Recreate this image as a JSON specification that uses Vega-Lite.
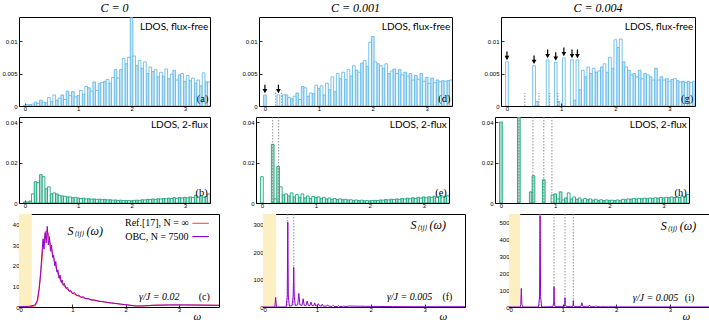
{
"$schema":"https://vega.github.io/schema/vega-lite/v6.json",
"padding":{"left":1,"top":1,"right":0,"bottom":0},
"spacing":4,
"config":{
 "view":{"stroke":"#000","strokeWidth":1},
 "axis":{"grid":false,"domain":false,"tickSize":-3,"tickColor":"#000","tickWidth":0.8,"labelFont":"Liberation Sans","labelFontSize":6,"labelColor":"#000","labelOverlap":false,"labelBound":false,"tickCount":12},
 "axisX":{"labelPadding":2},
 "axisY":{"labelPadding":5},
 "title":{"font":"Liberation Serif","fontSize":12,"fontStyle":"italic","fontWeight":"normal","offset":2}
},
"datasets":{
"a":[{"lo":-0.025,"hi":0.025,"v":0.0001,"s":"f"},{"lo":0.025,"hi":0.075,"v":0.0002,"s":"o"},{"lo":0.075,"hi":0.125,"v":0.0002,"s":"f"},{"lo":0.125,"hi":0.175,"v":0.0003,"s":"o"},{"lo":0.175,"hi":0.225,"v":0.0006,"s":"f"},{"lo":0.225,"hi":0.275,"v":0.0004,"s":"o"},{"lo":0.275,"hi":0.325,"v":0.0009,"s":"f"},{"lo":0.325,"hi":0.375,"v":0.0006,"s":"o"},{"lo":0.375,"hi":0.425,"v":0.0005,"s":"f"},{"lo":0.425,"hi":0.475,"v":0.0013,"s":"o"},
{"lo":0.475,"hi":0.525,"v":0.0007,"s":"f"},{"lo":0.525,"hi":0.575,"v":0.0017,"s":"o"},{"lo":0.575,"hi":0.625,"v":0.0009,"s":"f"},{"lo":0.625,"hi":0.675,"v":0.0012,"s":"o"},{"lo":0.675,"hi":0.725,"v":0.0017,"s":"f"},{"lo":0.725,"hi":0.775,"v":0.0010,"s":"o"},{"lo":0.775,"hi":0.825,"v":0.0023,"s":"f"},{"lo":0.825,"hi":0.875,"v":0.0016,"s":"o"},{"lo":0.875,"hi":0.925,"v":0.0022,"s":"f"},{"lo":0.925,"hi":0.975,"v":0.0014,"s":"o"},
{"lo":0.975,"hi":1.025,"v":0.0016,"s":"f"},{"lo":1.025,"hi":1.075,"v":0.0024,"s":"o"},{"lo":1.075,"hi":1.125,"v":0.0018,"s":"f"},{"lo":1.125,"hi":1.175,"v":0.0030,"s":"o"},{"lo":1.175,"hi":1.225,"v":0.0028,"s":"f"},{"lo":1.225,"hi":1.275,"v":0.0023,"s":"o"},{"lo":1.275,"hi":1.325,"v":0.0037,"s":"f"},{"lo":1.325,"hi":1.375,"v":0.0024,"s":"o"},{"lo":1.375,"hi":1.425,"v":0.0035,"s":"f"},{"lo":1.425,"hi":1.475,"v":0.0036,"s":"o"},
{"lo":1.475,"hi":1.525,"v":0.0038,"s":"f"},{"lo":1.525,"hi":1.575,"v":0.0041,"s":"o"},{"lo":1.575,"hi":1.625,"v":0.0035,"s":"f"},{"lo":1.625,"hi":1.675,"v":0.0044,"s":"o"},{"lo":1.675,"hi":1.725,"v":0.0056,"s":"f"},{"lo":1.725,"hi":1.775,"v":0.0043,"s":"o"},{"lo":1.775,"hi":1.825,"v":0.0056,"s":"f"},{"lo":1.825,"hi":1.875,"v":0.0073,"s":"o"},{"lo":1.875,"hi":1.925,"v":0.0065,"s":"f"},{"lo":1.925,"hi":1.975,"v":0.0075,"s":"o"},
{"lo":1.975,"hi":2.025,"v":0.0136,"s":"f"},{"lo":2.025,"hi":2.075,"v":0.0077,"s":"o"},{"lo":2.075,"hi":2.125,"v":0.0062,"s":"f"},{"lo":2.125,"hi":2.175,"v":0.0070,"s":"o"},{"lo":2.175,"hi":2.225,"v":0.0058,"s":"f"},{"lo":2.225,"hi":2.275,"v":0.0068,"s":"o"},{"lo":2.275,"hi":2.325,"v":0.0050,"s":"f"},{"lo":2.325,"hi":2.375,"v":0.0060,"s":"o"},{"lo":2.375,"hi":2.425,"v":0.0053,"s":"f"},{"lo":2.425,"hi":2.475,"v":0.0056,"s":"o"},
{"lo":2.475,"hi":2.525,"v":0.0045,"s":"f"},{"lo":2.525,"hi":2.575,"v":0.0052,"s":"o"},{"lo":2.575,"hi":2.625,"v":0.0046,"s":"f"},{"lo":2.625,"hi":2.675,"v":0.0057,"s":"o"},{"lo":2.675,"hi":2.725,"v":0.0042,"s":"f"},{"lo":2.725,"hi":2.775,"v":0.0049,"s":"o"},{"lo":2.775,"hi":2.825,"v":0.0055,"s":"f"},{"lo":2.825,"hi":2.875,"v":0.0040,"s":"o"},{"lo":2.875,"hi":2.925,"v":0.0048,"s":"f"},{"lo":2.925,"hi":2.975,"v":0.0050,"s":"o"},
{"lo":2.975,"hi":3.025,"v":0.0038,"s":"f"},{"lo":3.025,"hi":3.075,"v":0.0047,"s":"o"},{"lo":3.075,"hi":3.125,"v":0.0039,"s":"f"},{"lo":3.125,"hi":3.175,"v":0.0043,"s":"o"},{"lo":3.175,"hi":3.225,"v":0.0035,"s":"f"},{"lo":3.225,"hi":3.275,"v":0.0040,"s":"o"},{"lo":3.275,"hi":3.325,"v":0.0031,"s":"f"},{"lo":3.325,"hi":3.375,"v":0.0051,"s":"o"},{"lo":3.375,"hi":3.425,"v":0.0037,"s":"f"},{"lo":3.425,"hi":3.475,"v":0.0037,"s":"o"}],
"b":[{"lo":-0.025,"hi":0.025,"v":0.0005,"s":"f"},{"lo":0.025,"hi":0.075,"v":0.0005,"s":"o"},{"lo":0.075,"hi":0.125,"v":0.0010,"s":"f"},{"lo":0.125,"hi":0.175,"v":0.0045,"s":"o"},{"lo":0.175,"hi":0.225,"v":0.0105,"s":"f"},{"lo":0.225,"hi":0.275,"v":0.0100,"s":"o"},{"lo":0.275,"hi":0.325,"v":0.0140,"s":"f"},{"lo":0.325,"hi":0.375,"v":0.0130,"s":"o"},{"lo":0.375,"hi":0.425,"v":0.0070,"s":"f"},{"lo":0.425,"hi":0.475,"v":0.0080,"s":"o"},
{"lo":0.475,"hi":0.525,"v":0.0045,"s":"f"},{"lo":0.525,"hi":0.575,"v":0.0050,"s":"o"},{"lo":0.575,"hi":0.625,"v":0.0045,"s":"f"},{"lo":0.625,"hi":0.675,"v":0.0038,"s":"o"},{"lo":0.675,"hi":0.725,"v":0.0035,"s":"f"},{"lo":0.725,"hi":0.775,"v":0.0033,"s":"o"},{"lo":0.775,"hi":0.825,"v":0.0030,"s":"f"},{"lo":0.825,"hi":0.875,"v":0.0030,"s":"o"},{"lo":0.875,"hi":0.925,"v":0.0026,"s":"f"},{"lo":0.925,"hi":0.975,"v":0.0028,"s":"o"},
{"lo":0.975,"hi":1.025,"v":0.0025,"s":"f"},{"lo":1.025,"hi":1.075,"v":0.0022,"s":"o"},{"lo":1.075,"hi":1.125,"v":0.0024,"s":"f"},{"lo":1.125,"hi":1.175,"v":0.0020,"s":"o"},{"lo":1.175,"hi":1.225,"v":0.0021,"s":"f"},{"lo":1.225,"hi":1.275,"v":0.0019,"s":"o"},{"lo":1.275,"hi":1.325,"v":0.0020,"s":"f"},{"lo":1.325,"hi":1.375,"v":0.0018,"s":"o"},{"lo":1.375,"hi":1.425,"v":0.0019,"s":"f"},{"lo":1.425,"hi":1.475,"v":0.0016,"s":"o"},
{"lo":1.475,"hi":1.525,"v":0.0018,"s":"f"},{"lo":1.525,"hi":1.575,"v":0.0015,"s":"o"},{"lo":1.575,"hi":1.625,"v":0.0016,"s":"f"},{"lo":1.625,"hi":1.675,"v":0.0014,"s":"o"},{"lo":1.675,"hi":1.725,"v":0.0015,"s":"f"},{"lo":1.725,"hi":1.775,"v":0.0013,"s":"o"},{"lo":1.775,"hi":1.825,"v":0.0014,"s":"f"},{"lo":1.825,"hi":1.875,"v":0.0012,"s":"o"},{"lo":1.875,"hi":1.925,"v":0.0013,"s":"f"},{"lo":1.925,"hi":1.975,"v":0.0012,"s":"o"},
{"lo":1.975,"hi":2.025,"v":0.0011,"s":"f"},{"lo":2.025,"hi":2.075,"v":0.0013,"s":"o"},{"lo":2.075,"hi":2.125,"v":0.0014,"s":"f"},{"lo":2.125,"hi":2.175,"v":0.0013,"s":"o"},{"lo":2.175,"hi":2.225,"v":0.0016,"s":"f"},{"lo":2.225,"hi":2.275,"v":0.0015,"s":"o"},{"lo":2.275,"hi":2.325,"v":0.0018,"s":"f"},{"lo":2.325,"hi":2.375,"v":0.0017,"s":"o"},{"lo":2.375,"hi":2.425,"v":0.0020,"s":"f"},{"lo":2.425,"hi":2.475,"v":0.0018,"s":"o"},
{"lo":2.475,"hi":2.525,"v":0.0021,"s":"f"},{"lo":2.525,"hi":2.575,"v":0.0020,"s":"o"},{"lo":2.575,"hi":2.625,"v":0.0022,"s":"f"},{"lo":2.625,"hi":2.675,"v":0.0021,"s":"o"},{"lo":2.675,"hi":2.725,"v":0.0024,"s":"f"},{"lo":2.725,"hi":2.775,"v":0.0022,"s":"o"},{"lo":2.775,"hi":2.825,"v":0.0026,"s":"f"},{"lo":2.825,"hi":2.875,"v":0.0023,"s":"o"},{"lo":2.875,"hi":2.925,"v":0.0027,"s":"f"},{"lo":2.925,"hi":2.975,"v":0.0025,"s":"o"},
{"lo":2.975,"hi":3.025,"v":0.0028,"s":"f"},{"lo":3.025,"hi":3.075,"v":0.0026,"s":"o"},{"lo":3.075,"hi":3.125,"v":0.0030,"s":"f"},{"lo":3.125,"hi":3.175,"v":0.0027,"s":"o"},{"lo":3.175,"hi":3.225,"v":0.0038,"s":"f"},{"lo":3.225,"hi":3.275,"v":0.0030,"s":"o"},{"lo":3.275,"hi":3.325,"v":0.0033,"s":"f"},{"lo":3.325,"hi":3.375,"v":0.0029,"s":"o"},{"lo":3.375,"hi":3.425,"v":0.0032,"s":"f"},{"lo":3.425,"hi":3.475,"v":0.0045,"s":"o"}],
"d":[{"lo":-0.025,"hi":0.025,"v":0.0017,"s":"f"},{"lo":0.225,"hi":0.275,"v":0.0017,"s":"o"},{"lo":0.325,"hi":0.375,"v":0.0017,"s":"o"},{"lo":0.375,"hi":0.425,"v":0.0017,"s":"f"},{"lo":0.425,"hi":0.475,"v":0.0013,"s":"o"},
{"lo":0.475,"hi":0.525,"v":0.0011,"s":"f"},{"lo":0.525,"hi":0.575,"v":0.0015,"s":"o"},{"lo":0.575,"hi":0.625,"v":0.0020,"s":"f"},{"lo":0.625,"hi":0.675,"v":0.0010,"s":"o"},{"lo":0.675,"hi":0.725,"v":0.0030,"s":"f"},{"lo":0.725,"hi":0.775,"v":0.0028,"s":"o"},{"lo":0.775,"hi":0.825,"v":0.0015,"s":"f"},{"lo":0.825,"hi":0.875,"v":0.0020,"s":"o"},{"lo":0.875,"hi":0.925,"v":0.0019,"s":"f"},{"lo":0.925,"hi":0.975,"v":0.0032,"s":"o"},
{"lo":0.975,"hi":1.025,"v":0.0027,"s":"f"},{"lo":1.025,"hi":1.075,"v":0.0031,"s":"o"},{"lo":1.075,"hi":1.125,"v":0.0017,"s":"f"},{"lo":1.125,"hi":1.175,"v":0.0035,"s":"o"},{"lo":1.175,"hi":1.225,"v":0.0025,"s":"f"},{"lo":1.225,"hi":1.275,"v":0.0045,"s":"o"},{"lo":1.275,"hi":1.325,"v":0.0022,"s":"f"},{"lo":1.325,"hi":1.375,"v":0.0050,"s":"o"},{"lo":1.375,"hi":1.425,"v":0.0042,"s":"f"},{"lo":1.425,"hi":1.475,"v":0.0052,"s":"o"},
{"lo":1.475,"hi":1.525,"v":0.0041,"s":"f"},{"lo":1.525,"hi":1.575,"v":0.0056,"s":"o"},{"lo":1.575,"hi":1.625,"v":0.0046,"s":"f"},{"lo":1.625,"hi":1.675,"v":0.0062,"s":"o"},{"lo":1.675,"hi":1.725,"v":0.0055,"s":"f"},{"lo":1.725,"hi":1.775,"v":0.0052,"s":"o"},{"lo":1.775,"hi":1.825,"v":0.0066,"s":"f"},{"lo":1.825,"hi":1.875,"v":0.0070,"s":"o"},{"lo":1.875,"hi":1.925,"v":0.0061,"s":"f"},{"lo":1.925,"hi":1.975,"v":0.0098,"s":"o"},
{"lo":1.975,"hi":2.025,"v":0.0107,"s":"f"},{"lo":2.025,"hi":2.075,"v":0.0068,"s":"o"},{"lo":2.075,"hi":2.125,"v":0.0065,"s":"f"},{"lo":2.125,"hi":2.175,"v":0.0062,"s":"o"},{"lo":2.175,"hi":2.225,"v":0.0058,"s":"f"},{"lo":2.225,"hi":2.275,"v":0.0065,"s":"o"},{"lo":2.275,"hi":2.325,"v":0.0050,"s":"f"},{"lo":2.325,"hi":2.375,"v":0.0054,"s":"o"},{"lo":2.375,"hi":2.425,"v":0.0057,"s":"f"},{"lo":2.425,"hi":2.475,"v":0.0050,"s":"o"},
{"lo":2.475,"hi":2.525,"v":0.0056,"s":"f"},{"lo":2.525,"hi":2.575,"v":0.0048,"s":"o"},{"lo":2.575,"hi":2.625,"v":0.0052,"s":"f"},{"lo":2.625,"hi":2.675,"v":0.0046,"s":"o"},{"lo":2.675,"hi":2.725,"v":0.0050,"s":"f"},{"lo":2.725,"hi":2.775,"v":0.0040,"s":"o"},{"lo":2.775,"hi":2.825,"v":0.0047,"s":"f"},{"lo":2.825,"hi":2.875,"v":0.0041,"s":"o"},{"lo":2.875,"hi":2.925,"v":0.0050,"s":"f"},{"lo":2.925,"hi":2.975,"v":0.0038,"s":"o"},
{"lo":2.975,"hi":3.025,"v":0.0044,"s":"f"},{"lo":3.025,"hi":3.075,"v":0.0035,"s":"o"},{"lo":3.075,"hi":3.125,"v":0.0043,"s":"f"},{"lo":3.125,"hi":3.175,"v":0.0036,"s":"o"},{"lo":3.175,"hi":3.225,"v":0.0040,"s":"f"},{"lo":3.225,"hi":3.275,"v":0.0037,"s":"o"},{"lo":3.275,"hi":3.325,"v":0.0039,"s":"f"},{"lo":3.325,"hi":3.375,"v":0.0038,"s":"o"},{"lo":3.375,"hi":3.425,"v":0.0039,"s":"f"},{"lo":3.425,"hi":3.475,"v":0.0040,"s":"o"}],
"e":[{"lo":-0.025,"hi":0.025,"v":0.013,"s":"o"},{"lo":0.175,"hi":0.225,"v":0.029,"s":"f"},{"lo":0.225,"hi":0.275,"v":0.002,"s":"o"},{"lo":0.275,"hi":0.325,"v":0.018,"s":"f"},{"lo":0.325,"hi":0.375,"v":0.008,"s":"o"},{"lo":0.375,"hi":0.425,"v":0.0040,"s":"f"},{"lo":0.425,"hi":0.475,"v":0.0045,"s":"o"},
{"lo":0.475,"hi":0.525,"v":0.0035,"s":"f"},{"lo":0.525,"hi":0.575,"v":0.0050,"s":"o"},{"lo":0.575,"hi":0.625,"v":0.0030,"s":"f"},{"lo":0.625,"hi":0.675,"v":0.0042,"s":"o"},{"lo":0.675,"hi":0.725,"v":0.0028,"s":"f"},{"lo":0.725,"hi":0.775,"v":0.0045,"s":"o"},{"lo":0.775,"hi":0.825,"v":0.0025,"s":"f"},{"lo":0.825,"hi":0.875,"v":0.0035,"s":"o"},{"lo":0.875,"hi":0.925,"v":0.0022,"s":"f"},{"lo":0.925,"hi":0.975,"v":0.0032,"s":"o"},
{"lo":0.975,"hi":1.025,"v":0.0028,"s":"f"},{"lo":1.025,"hi":1.075,"v":0.0030,"s":"o"},{"lo":1.075,"hi":1.125,"v":0.0022,"s":"f"},{"lo":1.125,"hi":1.175,"v":0.0028,"s":"o"},{"lo":1.175,"hi":1.225,"v":0.0020,"s":"f"},{"lo":1.225,"hi":1.275,"v":0.0025,"s":"o"},{"lo":1.275,"hi":1.325,"v":0.0018,"s":"f"},{"lo":1.325,"hi":1.375,"v":0.0022,"s":"o"},{"lo":1.375,"hi":1.425,"v":0.0017,"s":"f"},{"lo":1.425,"hi":1.475,"v":0.0020,"s":"o"},
{"lo":1.475,"hi":1.525,"v":0.0016,"s":"f"},{"lo":1.525,"hi":1.575,"v":0.0018,"s":"o"},{"lo":1.575,"hi":1.625,"v":0.0015,"s":"f"},{"lo":1.625,"hi":1.675,"v":0.0016,"s":"o"},{"lo":1.675,"hi":1.725,"v":0.0013,"s":"f"},{"lo":1.725,"hi":1.775,"v":0.0015,"s":"o"},{"lo":1.775,"hi":1.825,"v":0.0012,"s":"f"},{"lo":1.825,"hi":1.875,"v":0.0014,"s":"o"},{"lo":1.875,"hi":1.925,"v":0.0011,"s":"f"},{"lo":1.925,"hi":1.975,"v":0.0012,"s":"o"},
{"lo":1.975,"hi":2.025,"v":0.0010,"s":"f"},{"lo":2.025,"hi":2.075,"v":0.0012,"s":"o"},{"lo":2.075,"hi":2.125,"v":0.0013,"s":"f"},{"lo":2.125,"hi":2.175,"v":0.0012,"s":"o"},{"lo":2.175,"hi":2.225,"v":0.0015,"s":"f"},{"lo":2.225,"hi":2.275,"v":0.0014,"s":"o"},{"lo":2.275,"hi":2.325,"v":0.0017,"s":"f"},{"lo":2.325,"hi":2.375,"v":0.0015,"s":"o"},{"lo":2.375,"hi":2.425,"v":0.0019,"s":"f"},{"lo":2.425,"hi":2.475,"v":0.0017,"s":"o"},
{"lo":2.475,"hi":2.525,"v":0.0020,"s":"f"},{"lo":2.525,"hi":2.575,"v":0.0018,"s":"o"},{"lo":2.575,"hi":2.625,"v":0.0022,"s":"f"},{"lo":2.625,"hi":2.675,"v":0.0020,"s":"o"},{"lo":2.675,"hi":2.725,"v":0.0024,"s":"f"},{"lo":2.725,"hi":2.775,"v":0.0021,"s":"o"},{"lo":2.775,"hi":2.825,"v":0.0026,"s":"f"},{"lo":2.825,"hi":2.875,"v":0.0022,"s":"o"},{"lo":2.875,"hi":2.925,"v":0.0028,"s":"f"},{"lo":2.925,"hi":2.975,"v":0.0024,"s":"o"},
{"lo":2.975,"hi":3.025,"v":0.0030,"s":"f"},{"lo":3.025,"hi":3.075,"v":0.0026,"s":"o"},{"lo":3.075,"hi":3.125,"v":0.0031,"s":"f"},{"lo":3.125,"hi":3.175,"v":0.0028,"s":"o"},{"lo":3.175,"hi":3.225,"v":0.0033,"s":"f"},{"lo":3.225,"hi":3.275,"v":0.0029,"s":"o"},{"lo":3.275,"hi":3.325,"v":0.0032,"s":"f"},{"lo":3.325,"hi":3.375,"v":0.0030,"s":"o"},{"lo":3.375,"hi":3.425,"v":0.0034,"s":"f"},{"lo":3.425,"hi":3.475,"v":0.0036,"s":"o"}],
"g":[{"lo":-0.025,"hi":0.025,"v":0.0068,"s":"o"},{"lo":0.475,"hi":0.525,"v":0.0062,"s":"o"},{"lo":0.525,"hi":0.575,"v":0.0007,"s":"f"},{"lo":0.725,"hi":0.775,"v":0.0071,"s":"o"},{"lo":0.875,"hi":0.925,"v":0.0067,"s":"o"},{"lo":0.925,"hi":0.975,"v":0.0007,"s":"f"},{"lo":1.025,"hi":1.075,"v":0.0074,"s":"o"},{"lo":1.175,"hi":1.225,"v":0.0071,"s":"o"},{"lo":1.225,"hi":1.275,"v":0.0009,"s":"f"},{"lo":1.275,"hi":1.325,"v":0.0071,"s":"o"},
{"lo":1.325,"hi":1.375,"v":0.0025,"s":"f"},{"lo":1.375,"hi":1.425,"v":0.0055,"s":"o"},{"lo":1.425,"hi":1.475,"v":0.0045,"s":"f"},{"lo":1.475,"hi":1.525,"v":0.0060,"s":"o"},{"lo":1.525,"hi":1.575,"v":0.0050,"s":"f"},{"lo":1.575,"hi":1.625,"v":0.0058,"s":"o"},{"lo":1.625,"hi":1.675,"v":0.0052,"s":"f"},{"lo":1.675,"hi":1.725,"v":0.0054,"s":"o"},{"lo":1.725,"hi":1.775,"v":0.0060,"s":"f"},{"lo":1.775,"hi":1.825,"v":0.0065,"s":"o"},
{"lo":1.825,"hi":1.875,"v":0.0052,"s":"f"},{"lo":1.875,"hi":1.925,"v":0.0075,"s":"o"},{"lo":1.925,"hi":1.975,"v":0.0058,"s":"f"},{"lo":1.975,"hi":2.025,"v":0.0102,"s":"o"},{"lo":2.025,"hi":2.075,"v":0.0090,"s":"f"},{"lo":2.075,"hi":2.125,"v":0.0103,"s":"o"},{"lo":2.125,"hi":2.175,"v":0.0068,"s":"f"},{"lo":2.175,"hi":2.225,"v":0.0060,"s":"o"},{"lo":2.225,"hi":2.275,"v":0.0055,"s":"f"},{"lo":2.275,"hi":2.325,"v":0.0048,"s":"o"},
{"lo":2.325,"hi":2.375,"v":0.0050,"s":"f"},{"lo":2.375,"hi":2.425,"v":0.0045,"s":"o"},{"lo":2.425,"hi":2.475,"v":0.0055,"s":"f"},{"lo":2.475,"hi":2.525,"v":0.0042,"s":"o"},{"lo":2.525,"hi":2.575,"v":0.0050,"s":"f"},{"lo":2.575,"hi":2.625,"v":0.0048,"s":"o"},{"lo":2.625,"hi":2.675,"v":0.0045,"s":"f"},{"lo":2.675,"hi":2.725,"v":0.0040,"s":"o"},{"lo":2.725,"hi":2.775,"v":0.0058,"s":"f"},{"lo":2.775,"hi":2.825,"v":0.0040,"s":"o"},
{"lo":2.825,"hi":2.875,"v":0.0045,"s":"f"},{"lo":2.875,"hi":2.925,"v":0.0040,"s":"o"},{"lo":2.925,"hi":2.975,"v":0.0042,"s":"f"},{"lo":2.975,"hi":3.025,"v":0.0038,"s":"o"},{"lo":3.025,"hi":3.075,"v":0.0041,"s":"f"},{"lo":3.075,"hi":3.125,"v":0.0042,"s":"o"},{"lo":3.125,"hi":3.175,"v":0.0039,"s":"f"},{"lo":3.175,"hi":3.225,"v":0.0037,"s":"o"},{"lo":3.225,"hi":3.275,"v":0.0038,"s":"f"},{"lo":3.275,"hi":3.325,"v":0.0036,"s":"o"},
{"lo":3.325,"hi":3.375,"v":0.0038,"s":"f"},{"lo":3.375,"hi":3.425,"v":0.0036,"s":"o"},{"lo":3.425,"hi":3.475,"v":0.0038,"s":"f"}],
"h":[{"lo":-0.025,"hi":0.025,"v":0.040,"s":"f"},{"lo":0.305,"hi":0.355,"v":0.0425,"s":"f"},{"lo":0.525,"hi":0.575,"v":0.0055,"s":"f"},{"lo":0.575,"hi":0.625,"v":0.0135,"s":"f"},{"lo":0.765,"hi":0.815,"v":0.0115,"s":"f"},{"lo":0.925,"hi":0.975,"v":0.0040,"s":"o"},{"lo":0.975,"hi":1.025,"v":0.0045,"s":"f"},{"lo":1.025,"hi":1.075,"v":0.0020,"s":"o"},{"lo":1.075,"hi":1.125,"v":0.0055,"s":"f"},{"lo":1.125,"hi":1.175,"v":0.0015,"s":"o"},
{"lo":1.175,"hi":1.225,"v":0.0025,"s":"f"},{"lo":1.225,"hi":1.275,"v":0.0050,"s":"o"},{"lo":1.275,"hi":1.325,"v":0.0020,"s":"f"},{"lo":1.325,"hi":1.375,"v":0.0030,"s":"o"},{"lo":1.375,"hi":1.425,"v":0.0018,"s":"f"},{"lo":1.425,"hi":1.475,"v":0.0025,"s":"o"},{"lo":1.475,"hi":1.525,"v":0.0015,"s":"f"},{"lo":1.525,"hi":1.575,"v":0.0022,"s":"o"},{"lo":1.575,"hi":1.625,"v":0.0016,"s":"f"},{"lo":1.625,"hi":1.675,"v":0.0020,"s":"o"},
{"lo":1.675,"hi":1.725,"v":0.0014,"s":"f"},{"lo":1.725,"hi":1.775,"v":0.0018,"s":"o"},{"lo":1.775,"hi":1.825,"v":0.0013,"s":"f"},{"lo":1.825,"hi":1.875,"v":0.0016,"s":"o"},{"lo":1.875,"hi":1.925,"v":0.0012,"s":"f"},{"lo":1.925,"hi":1.975,"v":0.0015,"s":"o"},{"lo":1.975,"hi":2.025,"v":0.0013,"s":"f"},{"lo":2.025,"hi":2.075,"v":0.0014,"s":"o"},{"lo":2.075,"hi":2.125,"v":0.0012,"s":"f"},{"lo":2.125,"hi":2.175,"v":0.0015,"s":"o"},
{"lo":2.175,"hi":2.225,"v":0.0013,"s":"f"},{"lo":2.225,"hi":2.275,"v":0.0018,"s":"o"},{"lo":2.275,"hi":2.325,"v":0.0016,"s":"f"},{"lo":2.325,"hi":2.375,"v":0.0020,"s":"o"},{"lo":2.375,"hi":2.425,"v":0.0019,"s":"f"},{"lo":2.425,"hi":2.475,"v":0.0022,"s":"o"},{"lo":2.475,"hi":2.525,"v":0.0020,"s":"f"},{"lo":2.525,"hi":2.575,"v":0.0023,"s":"o"},{"lo":2.575,"hi":2.625,"v":0.0021,"s":"f"},{"lo":2.625,"hi":2.675,"v":0.0024,"s":"o"},
{"lo":2.675,"hi":2.725,"v":0.0022,"s":"f"},{"lo":2.725,"hi":2.775,"v":0.0025,"s":"o"},{"lo":2.775,"hi":2.825,"v":0.0023,"s":"f"},{"lo":2.825,"hi":2.875,"v":0.0026,"s":"o"},{"lo":2.875,"hi":2.925,"v":0.0024,"s":"f"},{"lo":2.925,"hi":2.975,"v":0.0027,"s":"o"},{"lo":2.975,"hi":3.025,"v":0.0025,"s":"f"},{"lo":3.025,"hi":3.075,"v":0.0028,"s":"o"},{"lo":3.075,"hi":3.125,"v":0.0026,"s":"f"},{"lo":3.125,"hi":3.175,"v":0.0030,"s":"o"},
{"lo":3.175,"hi":3.225,"v":0.0027,"s":"f"},{"lo":3.225,"hi":3.275,"v":0.0031,"s":"o"},{"lo":3.275,"hi":3.325,"v":0.0028,"s":"f"},{"lo":3.325,"hi":3.375,"v":0.0033,"s":"o"},{"lo":3.375,"hi":3.425,"v":0.0030,"s":"f"},{"lo":3.425,"hi":3.475,"v":0.0042,"s":"o"}],
"cref":[{"w":0,"S":0},{"w":0.2,"S":0.1},{"w":0.3,"S":0.5},{"w":0.35,"S":3},{"w":0.4,"S":14},{"w":0.45,"S":29},{"w":0.5,"S":36.5},{"w":0.53,"S":37},{"w":0.56,"S":34},{"w":0.6,"S":29},{"w":0.65,"S":23.5},{"w":0.7,"S":18.5},{"w":0.75,"S":14.5},{"w":0.8,"S":11.8},{"w":0.9,"S":8.8},{"w":1.0,"S":6.8},{"w":1.1,"S":5.5},{"w":1.2,"S":4.5},{"w":1.4,"S":3.2},{"w":1.6,"S":2.4},{"w":1.8,"S":1.7},{"w":2.0,"S":1.1},{"w":2.2,"S":0.5},{"w":2.3,"S":0.5},{"w":2.5,"S":0.8},{"w":2.8,"S":1.0},{"w":3.1,"S":1.0},{"w":3.4,"S":0.9},{"w":3.75,"S":0.8}],
"cobc":[{"w":0,"S":0.1},{"w":0.1,"S":0.2},{"w":0.2,"S":0.4},{"w":0.3,"S":1.0},{"w":0.34,"S":3},{"w":0.38,"S":9},{"w":0.41,"S":18},{"w":0.43,"S":26},{"w":0.45,"S":33},{"w":0.47,"S":28},{"w":0.49,"S":36},{"w":0.51,"S":31},{"w":0.53,"S":39},{"w":0.55,"S":30},{"w":0.57,"S":34},{"w":0.59,"S":27},{"w":0.61,"S":30},{"w":0.63,"S":24},{"w":0.65,"S":25},{"w":0.67,"S":20},{"w":0.69,"S":22},{"w":0.71,"S":17},{"w":0.73,"S":18},{"w":0.75,"S":14},{"w":0.77,"S":15.5},{"w":0.79,"S":12},{"w":0.81,"S":13},{"w":0.83,"S":10.5},{"w":0.85,"S":11.5},{"w":0.88,"S":9},{"w":0.91,"S":9.5},{"w":0.94,"S":7.5},{"w":0.97,"S":8},{"w":1.0,"S":6.5},{"w":1.04,"S":7},{"w":1.08,"S":5.5},{"w":1.12,"S":5.8},{"w":1.16,"S":4.6},{"w":1.2,"S":5},{"w":1.25,"S":4},{"w":1.3,"S":4.2},{"w":1.35,"S":3.4},{"w":1.4,"S":3.5},{"w":1.5,"S":2.8},{"w":1.6,"S":2.5},{"w":1.7,"S":2.0},{"w":1.8,"S":1.8},{"w":1.9,"S":1.4},{"w":2.0,"S":1.1},{"w":2.1,"S":0.8},{"w":2.2,"S":0.5},{"w":2.3,"S":0.5},{"w":2.5,"S":0.8},{"w":2.8,"S":1.0},{"w":3.1,"S":1.0},{"w":3.4,"S":0.9},{"w":3.75,"S":0.8}],
"f":[{"w":0,"S":0},{"w":0.22,"S":0},{"w":0.235,"S":35},{"w":0.25,"S":0},{"w":0.43,"S":0},{"w":0.45,"S":40},{"w":0.46,"S":310},{"w":0.47,"S":40},{"w":0.49,"S":3},{"w":0.54,"S":5},{"w":0.56,"S":40},{"w":0.57,"S":145},{"w":0.58,"S":40},{"w":0.6,"S":5},{"w":0.645,"S":8},{"w":0.665,"S":50},{"w":0.685,"S":8},{"w":0.725,"S":6},{"w":0.745,"S":30},{"w":0.765,"S":6},{"w":0.8,"S":6},{"w":0.82,"S":22},{"w":0.84,"S":6},{"w":0.87,"S":5},{"w":0.89,"S":18},{"w":0.91,"S":5},{"w":0.94,"S":4},{"w":0.96,"S":15},{"w":0.98,"S":4},{"w":1.01,"S":4},{"w":1.03,"S":12},{"w":1.05,"S":4},{"w":1.08,"S":3},{"w":1.1,"S":10},{"w":1.12,"S":3},{"w":1.18,"S":3},{"w":1.2,"S":8},{"w":1.22,"S":3},{"w":1.28,"S":2},{"w":1.3,"S":6},{"w":1.32,"S":2},{"w":1.38,"S":2},{"w":1.4,"S":5},{"w":1.42,"S":2},{"w":1.48,"S":1.5},{"w":1.5,"S":4},{"w":1.52,"S":1.5},{"w":1.6,"S":3.5},{"w":1.75,"S":3},{"w":1.9,"S":2.5},{"w":2.1,"S":2},{"w":2.4,"S":1.5},{"w":2.8,"S":1},{"w":3.2,"S":1},{"w":3.75,"S":1}],
"i":[{"w":0,"S":0},{"w":0.21,"S":0},{"w":0.22,"S":15},{"w":0.23,"S":110},{"w":0.24,"S":15},{"w":0.26,"S":0},{"w":0.55,"S":0},{"w":0.57,"S":60},{"w":0.58,"S":540},{"w":0.59,"S":60},{"w":0.61,"S":0},{"w":0.82,"S":2},{"w":0.835,"S":30},{"w":0.84,"S":120},{"w":0.845,"S":30},{"w":0.86,"S":2},{"w":1.03,"S":2},{"w":1.04,"S":15},{"w":1.045,"S":55},{"w":1.05,"S":15},{"w":1.07,"S":2},{"w":1.19,"S":2},{"w":1.195,"S":10},{"w":1.2,"S":38},{"w":1.205,"S":10},{"w":1.22,"S":2},{"w":1.34,"S":2},{"w":1.36,"S":25},{"w":1.38,"S":2},{"w":1.48,"S":1.5},{"w":1.5,"S":12},{"w":1.52,"S":1.5},{"w":1.6,"S":1.5},{"w":1.62,"S":8},{"w":1.64,"S":1.5},{"w":1.73,"S":1},{"w":1.75,"S":5},{"w":1.77,"S":1},{"w":1.86,"S":1},{"w":1.88,"S":4},{"w":1.9,"S":1},{"w":1.98,"S":1},{"w":2.0,"S":3},{"w":2.02,"S":0.5},{"w":2.5,"S":0.5},{"w":3.75,"S":0.3}]
},
"vconcat":[
{"spacing":30,"hconcat":[
 {"width":191,"height":89,"title":"C = 0","layer":[
  {"data":{"name":"a"},"transform":[{"filter":"datum.s=='f'"}],"mark":{"type":"rect","fill":"#c4e6f8","stroke":"#56b4e9","strokeWidth":0.8,"clip":true},
   "encoding":{"x":{"field":"lo","type":"quantitative","scale":{"domain":[-0.11,3.47],"nice":false,"zero":false},"axis":{"values":[0,1,2,3],"format":"d"},"title":null},"x2":{"field":"hi"},
   "y":{"field":"v","type":"quantitative","scale":{"domain":[0,0.0137],"nice":false},"axis":{"values":[0,0.005,0.01],"format":"~g"},"title":null},"y2":{"datum":0}}},
  {"data":{"name":"a"},"transform":[{"filter":"datum.s=='o'"}],"mark":{"type":"rect","fill":"#ffffff","stroke":"#56b4e9","strokeWidth":0.8,"clip":true},
   "encoding":{"x":{"field":"lo","type":"quantitative","scale":{"domain":[-0.11,3.47],"nice":false,"zero":false},"title":null},"x2":{"field":"hi"},
   "y":{"field":"v","type":"quantitative","scale":{"domain":[0,0.0137],"nice":false},"title":null},"y2":{"datum":0}}},
  {"data":{"values":[{"x":3.44,"y":0.0121,"t":"LDOS, flux-free"}]},"mark":{"type":"text","align":"right","baseline":"middle","font":"Lato","fontSize":10},
   "encoding":{"x":{"field":"x","type":"quantitative","scale":{"domain":[-0.11,3.47],"nice":false,"zero":false},"title":null},"y":{"field":"y","type":"quantitative","scale":{"domain":[0,0.0137],"nice":false},"title":null},"text":{"field":"t"}}},
  {"data":{"values":[{"x":3.44,"y":0.0011,"t":"(a)"}]},"mark":{"type":"text","align":"right","baseline":"middle","font":"Liberation Serif","fontSize":10.5},
   "encoding":{"x":{"field":"x","type":"quantitative","scale":{"domain":[-0.11,3.47],"nice":false,"zero":false},"title":null},"y":{"field":"y","type":"quantitative","scale":{"domain":[0,0.0137],"nice":false},"title":null},"text":{"field":"t"}}}
 ]},
 {"width":193,"height":89,"title":"C = 0.001","layer":[
  {"data":{"name":"d"},"transform":[{"filter":"datum.s=='f'"}],"mark":{"type":"rect","fill":"#c4e6f8","stroke":"#56b4e9","strokeWidth":0.8,"clip":true},
   "encoding":{"x":{"field":"lo","type":"quantitative","scale":{"domain":[-0.11,3.47],"nice":false,"zero":false},"axis":{"values":[0,1,2,3],"format":"d"},"title":null},"x2":{"field":"hi"},
   "y":{"field":"v","type":"quantitative","scale":{"domain":[0,0.0137],"nice":false},"axis":{"values":[0,0.005,0.01],"format":"~g"},"title":null},"y2":{"datum":0}}},
  {"data":{"name":"d"},"transform":[{"filter":"datum.s=='o'"}],"mark":{"type":"rect","fill":"#ffffff","stroke":"#56b4e9","strokeWidth":0.8,"clip":true},
   "encoding":{"x":{"field":"lo","type":"quantitative","scale":{"domain":[-0.11,3.47],"nice":false,"zero":false},"title":null},"x2":{"field":"hi"},
   "y":{"field":"v","type":"quantitative","scale":{"domain":[0,0.0137],"nice":false},"title":null},"y2":{"datum":0}}},
  {"data":{"values":[{"x":0.2,"y1":0,"y2":0.0024},{"x":0.31,"y1":0,"y2":0.0024}]},"mark":{"type":"rule","color":"#777","strokeWidth":0.8,"strokeDash":[1.5,1.5]},
   "encoding":{"x":{"field":"x","type":"quantitative","scale":{"domain":[-0.11,3.47],"nice":false,"zero":false},"title":null},"y":{"field":"y1","type":"quantitative","scale":{"domain":[0,0.0137],"nice":false},"title":null},"y2":{"field":"y2"}}},
  {"data":{"values":[{"x":0,"y":0.0017},{"x":0.25,"y":0.0017}]},"mark":{"type":"point","shape":"M-0.14,-1L0.14,-1L0.14,0L0.55,0L0,1L-0.55,0L-0.14,0Z","filled":true,"color":"#000","opacity":1,"size":75,"yOffset":-6},
   "encoding":{"x":{"field":"x","type":"quantitative","scale":{"domain":[-0.11,3.47],"nice":false,"zero":false},"title":null},"y":{"field":"y","type":"quantitative","scale":{"domain":[0,0.0137],"nice":false},"title":null}}},
  {"data":{"values":[{"x":3.44,"y":0.0121,"t":"LDOS, flux-free"}]},"mark":{"type":"text","align":"right","baseline":"middle","font":"Lato","fontSize":10},
   "encoding":{"x":{"field":"x","type":"quantitative","scale":{"domain":[-0.11,3.47],"nice":false,"zero":false},"title":null},"y":{"field":"y","type":"quantitative","scale":{"domain":[0,0.0137],"nice":false},"title":null},"text":{"field":"t"}}},
  {"data":{"values":[{"x":3.44,"y":0.0011,"t":"(d)"}]},"mark":{"type":"text","align":"right","baseline":"middle","font":"Liberation Serif","fontSize":10.5},
   "encoding":{"x":{"field":"x","type":"quantitative","scale":{"domain":[-0.11,3.47],"nice":false,"zero":false},"title":null},"y":{"field":"y","type":"quantitative","scale":{"domain":[0,0.0137],"nice":false},"title":null},"text":{"field":"t"}}}
 ]},
 {"width":194,"height":89,"title":"C = 0.004","layer":[
  {"data":{"name":"g"},"transform":[{"filter":"datum.s=='f'"}],"mark":{"type":"rect","fill":"#c4e6f8","stroke":"#56b4e9","strokeWidth":0.8,"clip":true},
   "encoding":{"x":{"field":"lo","type":"quantitative","scale":{"domain":[-0.11,3.47],"nice":false,"zero":false},"axis":{"values":[0,1,2,3],"format":"d"},"title":null},"x2":{"field":"hi"},
   "y":{"field":"v","type":"quantitative","scale":{"domain":[0,0.0137],"nice":false},"axis":{"values":[0,0.005,0.01],"format":"~g"},"title":null},"y2":{"datum":0}}},
  {"data":{"name":"g"},"transform":[{"filter":"datum.s=='o'"}],"mark":{"type":"rect","fill":"#ffffff","stroke":"#56b4e9","strokeWidth":0.8,"clip":true},
   "encoding":{"x":{"field":"lo","type":"quantitative","scale":{"domain":[-0.11,3.47],"nice":false,"zero":false},"title":null},"x2":{"field":"hi"},
   "y":{"field":"v","type":"quantitative","scale":{"domain":[0,0.0137],"nice":false},"title":null},"y2":{"datum":0}}},
  {"data":{"values":[{"x":0.33,"y1":0,"y2":0.002},{"x":0.59,"y1":0,"y2":0.002},{"x":0.79,"y1":0,"y2":0.002},{"x":0.94,"y1":0,"y2":0.002}]},"mark":{"type":"rule","color":"#777","strokeWidth":0.8,"strokeDash":[1.5,1.5]},
   "encoding":{"x":{"field":"x","type":"quantitative","scale":{"domain":[-0.11,3.47],"nice":false,"zero":false},"title":null},"y":{"field":"y1","type":"quantitative","scale":{"domain":[0,0.0137],"nice":false},"title":null},"y2":{"field":"y2"}}},
  {"data":{"values":[{"x":0,"y":0.0068},{"x":0.5,"y":0.0062},{"x":0.75,"y":0.0071},{"x":0.9,"y":0.0067},{"x":1.05,"y":0.0074},{"x":1.2,"y":0.0071},{"x":1.3,"y":0.0071}]},"mark":{"type":"point","shape":"M-0.14,-1L0.14,-1L0.14,0L0.55,0L0,1L-0.55,0L-0.14,0Z","filled":true,"color":"#000","opacity":1,"size":75,"yOffset":-6},
   "encoding":{"x":{"field":"x","type":"quantitative","scale":{"domain":[-0.11,3.47],"nice":false,"zero":false},"title":null},"y":{"field":"y","type":"quantitative","scale":{"domain":[0,0.0137],"nice":false},"title":null}}},
  {"data":{"values":[{"x":3.44,"y":0.0121,"t":"LDOS, flux-free"}]},"mark":{"type":"text","align":"right","baseline":"middle","font":"Lato","fontSize":10},
   "encoding":{"x":{"field":"x","type":"quantitative","scale":{"domain":[-0.11,3.47],"nice":false,"zero":false},"title":null},"y":{"field":"y","type":"quantitative","scale":{"domain":[0,0.0137],"nice":false},"title":null},"text":{"field":"t"}}},
  {"data":{"values":[{"x":3.44,"y":0.0011,"t":"(g)"}]},"mark":{"type":"text","align":"right","baseline":"middle","font":"Liberation Serif","fontSize":10.5},
   "encoding":{"x":{"field":"x","type":"quantitative","scale":{"domain":[-0.11,3.47],"nice":false,"zero":false},"title":null},"y":{"field":"y","type":"quantitative","scale":{"domain":[0,0.0137],"nice":false},"title":null},"text":{"field":"t"}}}
 ]}
]},
{"spacing":30,"hconcat":[
 {"width":191,"height":86,"layer":[
  {"data":{"name":"b"},"transform":[{"filter":"datum.s=='f'"}],"mark":{"type":"rect","fill":"#aee0cd","stroke":"#009e73","strokeWidth":0.8,"clip":true},
   "encoding":{"x":{"field":"lo","type":"quantitative","scale":{"domain":[-0.11,3.47],"nice":false,"zero":false},"axis":{"values":[0,1,2,3],"format":"d"},"title":null},"x2":{"field":"hi"},
   "y":{"field":"v","type":"quantitative","scale":{"domain":[0,0.0425],"nice":false},"axis":{"values":[0,0.02,0.04],"format":"~g"},"title":null},"y2":{"datum":0}}},
  {"data":{"name":"b"},"transform":[{"filter":"datum.s=='o'"}],"mark":{"type":"rect","fill":"#ffffff","stroke":"#009e73","strokeWidth":0.8,"clip":true},
   "encoding":{"x":{"field":"lo","type":"quantitative","scale":{"domain":[-0.11,3.47],"nice":false,"zero":false},"title":null},"x2":{"field":"hi"},
   "y":{"field":"v","type":"quantitative","scale":{"domain":[0,0.0425],"nice":false},"title":null},"y2":{"datum":0}}},
  {"data":{"values":[{"x":3.43,"y":0.0385,"t":"LDOS, 2-flux"}]},"mark":{"type":"text","align":"right","baseline":"middle","font":"Lato","fontSize":10},
   "encoding":{"x":{"field":"x","type":"quantitative","scale":{"domain":[-0.11,3.47],"nice":false,"zero":false},"title":null},"y":{"field":"y","type":"quantitative","scale":{"domain":[0,0.0425],"nice":false},"title":null},"text":{"field":"t"}}},
  {"data":{"values":[{"x":3.43,"y":0.0049,"t":"(b)"}]},"mark":{"type":"text","align":"right","baseline":"middle","font":"Liberation Serif","fontSize":10.5},
   "encoding":{"x":{"field":"x","type":"quantitative","scale":{"domain":[-0.11,3.47],"nice":false,"zero":false},"title":null},"y":{"field":"y","type":"quantitative","scale":{"domain":[0,0.0425],"nice":false},"title":null},"text":{"field":"t"}}}
 ]},
 {"width":193,"height":86,"layer":[
  {"data":{"name":"e"},"transform":[{"filter":"datum.s=='f'"}],"mark":{"type":"rect","fill":"#aee0cd","stroke":"#009e73","strokeWidth":0.8,"clip":true},
   "encoding":{"x":{"field":"lo","type":"quantitative","scale":{"domain":[-0.11,3.47],"nice":false,"zero":false},"axis":{"values":[0,1,2,3],"format":"d"},"title":null},"x2":{"field":"hi"},
   "y":{"field":"v","type":"quantitative","scale":{"domain":[0,0.0425],"nice":false},"axis":{"values":[0,0.02,0.04],"format":"~g"},"title":null},"y2":{"datum":0}}},
  {"data":{"name":"e"},"transform":[{"filter":"datum.s=='o'"}],"mark":{"type":"rect","fill":"#ffffff","stroke":"#009e73","strokeWidth":0.8,"clip":true},
   "encoding":{"x":{"field":"lo","type":"quantitative","scale":{"domain":[-0.11,3.47],"nice":false,"zero":false},"title":null},"x2":{"field":"hi"},
   "y":{"field":"v","type":"quantitative","scale":{"domain":[0,0.0425],"nice":false},"title":null},"y2":{"datum":0}}},
  {"data":{"values":[{"x":0.2},{"x":0.31}]},"mark":{"type":"rule","color":"#777","strokeWidth":0.8,"strokeDash":[1.5,1.5]},
   "encoding":{"x":{"field":"x","type":"quantitative","scale":{"domain":[-0.11,3.47],"nice":false,"zero":false},"title":null}}},
  {"data":{"values":[{"x":3.43,"y":0.0385,"t":"LDOS, 2-flux"}]},"mark":{"type":"text","align":"right","baseline":"middle","font":"Lato","fontSize":10},
   "encoding":{"x":{"field":"x","type":"quantitative","scale":{"domain":[-0.11,3.47],"nice":false,"zero":false},"title":null},"y":{"field":"y","type":"quantitative","scale":{"domain":[0,0.0425],"nice":false},"title":null},"text":{"field":"t"}}},
  {"data":{"values":[{"x":3.43,"y":0.0049,"t":"(e)"}]},"mark":{"type":"text","align":"right","baseline":"middle","font":"Liberation Serif","fontSize":10.5},
   "encoding":{"x":{"field":"x","type":"quantitative","scale":{"domain":[-0.11,3.47],"nice":false,"zero":false},"title":null},"y":{"field":"y","type":"quantitative","scale":{"domain":[0,0.0425],"nice":false},"title":null},"text":{"field":"t"}}}
 ]},
 {"width":194,"height":86,"layer":[
  {"data":{"name":"h"},"transform":[{"filter":"datum.s=='f'"}],"mark":{"type":"rect","fill":"#aee0cd","stroke":"#009e73","strokeWidth":0.8,"clip":true},
   "encoding":{"x":{"field":"lo","type":"quantitative","scale":{"domain":[-0.11,3.47],"nice":false,"zero":false},"axis":{"values":[0,1,2,3],"format":"d"},"title":null},"x2":{"field":"hi"},
   "y":{"field":"v","type":"quantitative","scale":{"domain":[0,0.0425],"nice":false},"axis":{"values":[0,0.02,0.04],"format":"~g"},"title":null},"y2":{"datum":0}}},
  {"data":{"name":"h"},"transform":[{"filter":"datum.s=='o'"}],"mark":{"type":"rect","fill":"#ffffff","stroke":"#009e73","strokeWidth":0.8,"clip":true},
   "encoding":{"x":{"field":"lo","type":"quantitative","scale":{"domain":[-0.11,3.47],"nice":false,"zero":false},"title":null},"x2":{"field":"hi"},
   "y":{"field":"v","type":"quantitative","scale":{"domain":[0,0.0425],"nice":false},"title":null},"y2":{"datum":0}}},
  {"data":{"values":[{"x":0.33},{"x":0.59},{"x":0.79},{"x":0.94}]},"mark":{"type":"rule","color":"#777","strokeWidth":0.8,"strokeDash":[1.5,1.5]},
   "encoding":{"x":{"field":"x","type":"quantitative","scale":{"domain":[-0.11,3.47],"nice":false,"zero":false},"title":null}}},
  {"data":{"values":[{"x":3.43,"y":0.0385,"t":"LDOS, 2-flux"}]},"mark":{"type":"text","align":"right","baseline":"middle","font":"Lato","fontSize":10},
   "encoding":{"x":{"field":"x","type":"quantitative","scale":{"domain":[-0.11,3.47],"nice":false,"zero":false},"title":null},"y":{"field":"y","type":"quantitative","scale":{"domain":[0,0.0425],"nice":false},"title":null},"text":{"field":"t"}}},
  {"data":{"values":[{"x":3.43,"y":0.0049,"t":"(h)"}]},"mark":{"type":"text","align":"right","baseline":"middle","font":"Liberation Serif","fontSize":10.5},
   "encoding":{"x":{"field":"x","type":"quantitative","scale":{"domain":[-0.11,3.47],"nice":false,"zero":false},"title":null},"y":{"field":"y","type":"quantitative","scale":{"domain":[0,0.0425],"nice":false},"title":null},"text":{"field":"t"}}}
 ]}
]},
{"spacing":32,"hconcat":[
 {"width":200,"height":93,"layer":[
  {"data":{"values":[{"x1":0,"x2":0.24,"y1":0,"y2":45}]},"mark":{"type":"rect","color":"#fcf0c3"},
   "encoding":{"x":{"field":"x1","type":"quantitative","scale":{"domain":[0,3.75],"nice":false},"axis":{"values":[0,1,2,3],"format":"d","titleFont":"Liberation Serif","titleFontStyle":"italic","titleFontWeight":"normal","titleFontSize":11,"titleX":178,"titleY":9,"titleBaseline":"middle"},"title":"ω"},"x2":{"field":"x2"},
   "y":{"field":"y1","type":"quantitative","scale":{"domain":[0,45],"nice":false},"axis":{"values":[0,10,20,30,40],"tickCount":12,"labelPadding":3},"title":null},"y2":{"field":"y2"}}},
  {"data":{"name":"cref"},"mark":{"type":"line","color":"#ff4d3d","strokeWidth":1.1,"clip":true},
   "encoding":{"x":{"field":"w","type":"quantitative","scale":{"domain":[0,3.75],"nice":false},"title":"ω"},"y":{"field":"S","type":"quantitative","scale":{"domain":[0,45],"nice":false},"title":null}}},
  {"data":{"name":"cobc"},"mark":{"type":"line","color":"#9400d3","strokeWidth":1,"clip":true},
   "encoding":{"x":{"field":"w","type":"quantitative","scale":{"domain":[0,3.75],"nice":false},"title":"ω"},"y":{"field":"S","type":"quantitative","scale":{"domain":[0,45],"nice":false},"title":null}}},
  {"data":{"values":[{"x1":3.25,"x2":3.56,"y":40.5}]},"mark":{"type":"rule","color":"#ff4d3d","strokeWidth":1.1},
   "encoding":{"x":{"field":"x1","type":"quantitative","scale":{"domain":[0,3.75],"nice":false},"title":"ω"},"x2":{"field":"x2"},"y":{"field":"y","type":"quantitative","scale":{"domain":[0,45],"nice":false},"title":null}}},
  {"data":{"values":[{"x1":3.25,"x2":3.56,"y":34.1}]},"mark":{"type":"rule","color":"#9400d3","strokeWidth":1.1},
   "encoding":{"x":{"field":"x1","type":"quantitative","scale":{"domain":[0,3.75],"nice":false},"title":"ω"},"x2":{"field":"x2"},"y":{"field":"y","type":"quantitative","scale":{"domain":[0,45],"nice":false},"title":null}}},
  {"data":{"values":[{"x":3.18,"y":40.5,"t":"Ref.[17], N = ∞"},{"x":3.18,"y":34.1,"t":"OBC, N = 7500"}]},"mark":{"type":"text","align":"right","baseline":"middle","font":"Liberation Serif","fontSize":10},
   "encoding":{"x":{"field":"x","type":"quantitative","scale":{"domain":[0,3.75],"nice":false},"title":"ω"},"y":{"field":"y","type":"quantitative","scale":{"domain":[0,45],"nice":false},"title":null},"text":{"field":"t"}}},
  {"data":{"values":[{"x":0.91,"y":36.8,"t":"S"}]},"mark":{"type":"text","align":"left","baseline":"middle","font":"Liberation Serif","fontStyle":"italic","fontSize":12},
   "encoding":{"x":{"field":"x","type":"quantitative","scale":{"domain":[0,3.75],"nice":false},"title":"ω"},"y":{"field":"y","type":"quantitative","scale":{"domain":[0,45],"nice":false},"title":null},"text":{"field":"t"}}},
  {"data":{"values":[{"x":0.91,"y":36.8,"t":"⟨ij⟩"}]},"mark":{"type":"text","align":"left","baseline":"middle","font":"DejaVu Serif","fontStyle":"italic","fontSize":7,"dx":7,"dy":3},
   "encoding":{"x":{"field":"x","type":"quantitative","scale":{"domain":[0,3.75],"nice":false},"title":"ω"},"y":{"field":"y","type":"quantitative","scale":{"domain":[0,45],"nice":false},"title":null},"text":{"field":"t"}}},
  {"data":{"values":[{"x":0.91,"y":36.8,"t":"(ω)"}]},"mark":{"type":"text","align":"left","baseline":"middle","font":"Liberation Serif","fontStyle":"italic","fontSize":12,"dx":19},
   "encoding":{"x":{"field":"x","type":"quantitative","scale":{"domain":[0,3.75],"nice":false},"title":"ω"},"y":{"field":"y","type":"quantitative","scale":{"domain":[0,45],"nice":false},"title":null},"text":{"field":"t"}}},
  {"data":{"values":[{"x":2.25,"y":5,"t":"γ/J = 0.02"}]},"mark":{"type":"text","align":"left","baseline":"middle","font":"Liberation Serif","fontStyle":"italic","fontSize":10},
   "encoding":{"x":{"field":"x","type":"quantitative","scale":{"domain":[0,3.75],"nice":false},"title":"ω"},"y":{"field":"y","type":"quantitative","scale":{"domain":[0,45],"nice":false},"title":null},"text":{"field":"t"}}},
  {"data":{"values":[{"x":3.37,"y":5,"t":"(c)"}]},"mark":{"type":"text","align":"left","baseline":"middle","font":"Liberation Serif","fontSize":10},
   "encoding":{"x":{"field":"x","type":"quantitative","scale":{"domain":[0,3.75],"nice":false},"title":"ω"},"y":{"field":"y","type":"quantitative","scale":{"domain":[0,45],"nice":false},"title":null},"text":{"field":"t"}}}
 ]},
 {"width":202,"height":93,"layer":[
  {"data":{"values":[{"x1":0,"x2":0.245,"y1":0,"y2":340}]},"mark":{"type":"rect","color":"#fcf0c3"},
   "encoding":{"x":{"field":"x1","type":"quantitative","scale":{"domain":[0,3.75],"nice":false},"axis":{"values":[0,1,2,3],"format":"d","titleFont":"Liberation Serif","titleFontStyle":"italic","titleFontWeight":"normal","titleFontSize":11,"titleX":180,"titleY":9,"titleBaseline":"middle"},"title":"ω"},"x2":{"field":"x2"},
   "y":{"field":"y1","type":"quantitative","scale":{"domain":[0,340],"nice":false},"axis":{"values":[0,100,200,300],"tickCount":12,"labelPadding":3},"title":null},"y2":{"field":"y2"}}},
  {"data":{"values":[{"x":0.46},{"x":0.57}]},"mark":{"type":"rule","color":"#777","strokeWidth":0.8,"strokeDash":[1.5,1.5]},
   "encoding":{"x":{"field":"x","type":"quantitative","scale":{"domain":[0,3.75],"nice":false},"title":"ω"}}},
  {"data":{"name":"f"},"mark":{"type":"line","color":"#9400d3","strokeWidth":1,"clip":true},
   "encoding":{"x":{"field":"w","type":"quantitative","scale":{"domain":[0,3.75],"nice":false},"title":"ω"},"y":{"field":"S","type":"quantitative","scale":{"domain":[0,340],"nice":false},"title":null}}},
  {"data":{"values":[{"x":2.74,"y":298,"t":"S"}]},"mark":{"type":"text","align":"left","baseline":"middle","font":"Liberation Serif","fontStyle":"italic","fontSize":12},
   "encoding":{"x":{"field":"x","type":"quantitative","scale":{"domain":[0,3.75],"nice":false},"title":"ω"},"y":{"field":"y","type":"quantitative","scale":{"domain":[0,340],"nice":false},"title":null},"text":{"field":"t"}}},
  {"data":{"values":[{"x":2.74,"y":298,"t":"⟨ij⟩"}]},"mark":{"type":"text","align":"left","baseline":"middle","font":"DejaVu Serif","fontStyle":"italic","fontSize":7,"dx":7,"dy":3},
   "encoding":{"x":{"field":"x","type":"quantitative","scale":{"domain":[0,3.75],"nice":false},"title":"ω"},"y":{"field":"y","type":"quantitative","scale":{"domain":[0,340],"nice":false},"title":null},"text":{"field":"t"}}},
  {"data":{"values":[{"x":2.74,"y":298,"t":"(ω)"}]},"mark":{"type":"text","align":"left","baseline":"middle","font":"Liberation Serif","fontStyle":"italic","fontSize":12,"dx":19},
   "encoding":{"x":{"field":"x","type":"quantitative","scale":{"domain":[0,3.75],"nice":false},"title":"ω"},"y":{"field":"y","type":"quantitative","scale":{"domain":[0,340],"nice":false},"title":null},"text":{"field":"t"}}},
  {"data":{"values":[{"x":2.3,"y":36,"t":"γ/J = 0.005"}]},"mark":{"type":"text","align":"left","baseline":"middle","font":"Liberation Serif","fontStyle":"italic","fontSize":10},
   "encoding":{"x":{"field":"x","type":"quantitative","scale":{"domain":[0,3.75],"nice":false},"title":"ω"},"y":{"field":"y","type":"quantitative","scale":{"domain":[0,340],"nice":false},"title":null},"text":{"field":"t"}}},
  {"data":{"values":[{"x":3.33,"y":36,"t":"(f)"}]},"mark":{"type":"text","align":"left","baseline":"middle","font":"Liberation Serif","fontSize":10},
   "encoding":{"x":{"field":"x","type":"quantitative","scale":{"domain":[0,3.75],"nice":false},"title":"ω"},"y":{"field":"y","type":"quantitative","scale":{"domain":[0,340],"nice":false},"title":null},"text":{"field":"t"}}}
 ]},
 {"width":201,"height":93,"layer":[
  {"data":{"values":[{"x1":0,"x2":0.21,"y1":0,"y2":550}]},"mark":{"type":"rect","color":"#fcf0c3"},
   "encoding":{"x":{"field":"x1","type":"quantitative","scale":{"domain":[0,3.75],"nice":false},"axis":{"values":[0,1,2,3],"format":"d","titleFont":"Liberation Serif","titleFontStyle":"italic","titleFontWeight":"normal","titleFontSize":11,"titleX":177,"titleY":9,"titleBaseline":"middle"},"title":"ω"},"x2":{"field":"x2"},
   "y":{"field":"y1","type":"quantitative","scale":{"domain":[0,550],"nice":false},"axis":{"values":[0,100,200,300,400,500],"tickCount":12,"labelPadding":3},"title":null},"y2":{"field":"y2"}}},
  {"data":{"values":[{"x":0.576},{"x":0.84},{"x":1.045},{"x":1.2}]},"mark":{"type":"rule","color":"#777","strokeWidth":0.8,"strokeDash":[1.5,1.5]},
   "encoding":{"x":{"field":"x","type":"quantitative","scale":{"domain":[0,3.75],"nice":false},"title":"ω"}}},
  {"data":{"name":"i"},"mark":{"type":"line","color":"#9400d3","strokeWidth":1,"clip":true},
   "encoding":{"x":{"field":"w","type":"quantitative","scale":{"domain":[0,3.75],"nice":false},"title":"ω"},"y":{"field":"S","type":"quantitative","scale":{"domain":[0,550],"nice":false},"title":null}}},
  {"data":{"values":[{"x":2.83,"y":478,"t":"S"}]},"mark":{"type":"text","align":"left","baseline":"middle","font":"Liberation Serif","fontStyle":"italic","fontSize":12},
   "encoding":{"x":{"field":"x","type":"quantitative","scale":{"domain":[0,3.75],"nice":false},"title":"ω"},"y":{"field":"y","type":"quantitative","scale":{"domain":[0,550],"nice":false},"title":null},"text":{"field":"t"}}},
  {"data":{"values":[{"x":2.83,"y":478,"t":"⟨ij⟩"}]},"mark":{"type":"text","align":"left","baseline":"middle","font":"DejaVu Serif","fontStyle":"italic","fontSize":7,"dx":7,"dy":3},
   "encoding":{"x":{"field":"x","type":"quantitative","scale":{"domain":[0,3.75],"nice":false},"title":"ω"},"y":{"field":"y","type":"quantitative","scale":{"domain":[0,550],"nice":false},"title":null},"text":{"field":"t"}}},
  {"data":{"values":[{"x":2.83,"y":478,"t":"(ω)"}]},"mark":{"type":"text","align":"left","baseline":"middle","font":"Liberation Serif","fontStyle":"italic","fontSize":12,"dx":19},
   "encoding":{"x":{"field":"x","type":"quantitative","scale":{"domain":[0,3.75],"nice":false},"title":"ω"},"y":{"field":"y","type":"quantitative","scale":{"domain":[0,550],"nice":false},"title":null},"text":{"field":"t"}}},
  {"data":{"values":[{"x":2.31,"y":56,"t":"γ/J = 0.005"}]},"mark":{"type":"text","align":"left","baseline":"middle","font":"Liberation Serif","fontStyle":"italic","fontSize":10},
   "encoding":{"x":{"field":"x","type":"quantitative","scale":{"domain":[0,3.75],"nice":false},"title":"ω"},"y":{"field":"y","type":"quantitative","scale":{"domain":[0,550],"nice":false},"title":null},"text":{"field":"t"}}},
  {"data":{"values":[{"x":3.28,"y":56,"t":"(i)"}]},"mark":{"type":"text","align":"left","baseline":"middle","font":"Liberation Serif","fontSize":10},
   "encoding":{"x":{"field":"x","type":"quantitative","scale":{"domain":[0,3.75],"nice":false},"title":"ω"},"y":{"field":"y","type":"quantitative","scale":{"domain":[0,550],"nice":false},"title":null},"text":{"field":"t"}}}
 ]}
]}
]
}
